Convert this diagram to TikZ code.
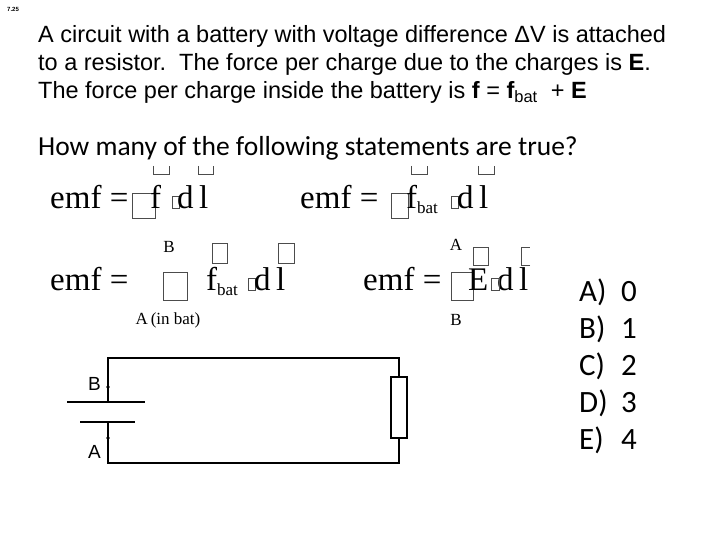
\documentclass[tikz,border=0pt]{standalone}
\usepackage{fontspec}
\setmainfont{Liberation Sans}
\newfontfamily\carlitofont{Carlito}
\newfontfamily\tmsfont{Liberation Serif}
\newcommand\batsz{\tmsfont\fontsize{17}{17}\selectfont}
\begin{document}
\begin{tikzpicture}[x=1pt,y=-1pt,
  t/.style={inner sep=0pt,anchor=base west},
  eq/.style={t,font=\tmsfont\fontsize{33}{33}\selectfont},
  ans/.style={t,font=\carlitofont\fontsize{31}{31}\selectfont},
  lab/.style={inner sep=0pt,font=\tmsfont\fontsize{17}{17}\selectfont},
  gb/.style={draw=black!70,line width=0.6pt},
  wire/.style={line width=1.4pt}]
\useasboundingbox (0,0) rectangle (720,540);
\node[t,font=\bfseries\fontsize{6}{6}\selectfont] (num) at (7,12) {7.25};
\node[t,font=\fontsize{23.5}{23.5}\selectfont] (l1) at (38,43) {A circuit with a battery with voltage difference ΔV is attached};
\node[t,font=\fontsize{23.5}{23.5}\selectfont] (l2) at (38,71) {to a resistor.\ \ The force per charge due to the charges is \textbf{E}.};
\node[t,font=\fontsize{23.5}{23.5}\selectfont] (l3) at (38,99) {The force per charge inside the battery is \textbf{f} = \textbf{f}\textsubscript{bat}\ \ + \textbf{E}};
\node[t,font=\carlitofont\fontsize{27.5}{27.5}\selectfont] (q) at (38,156) {How many of the following statements are true?};
% row 1 left
\node[eq] (e1) at (50,209) {emf =};
\draw[gb] (132,193) rectangle (155,218);
\node[eq] (f1) at (150,209) {f};
\draw[gb] (172,196) rectangle (179,208);
\node[eq] (d1) at (177,209) {d\,l};
\draw[gb] (153,166) |- (169,174) -- (169,166);
\draw[gb] (198,166) |- (213,174) -- (213,166);
% row 1 right
\node[eq] (e2) at (300,209) {emf =};
\draw[gb] (391,193) rectangle (408,218);
\node[eq] (f2) at (406,209) {f\raisebox{-5pt}{\batsz bat}};
\draw[gb] (451,196) rectangle (458,208);
\node[eq] (d2) at (457,209) {d\,l};
\draw[gb] (411,166) |- (427,174) -- (427,166);
\draw[gb] (478,166) |- (494,174) -- (494,166);
% row 2 left
\node[eq] (e3) at (50,290) {emf =};
\node[lab] (b3) at (169,247) {B};
\draw[gb] (163,272) rectangle (187,300);
\node[eq] (f3) at (206,290) {f\raisebox{-5pt}{\batsz bat}};
\draw[gb] (248,278) rectangle (255,290);
\node[eq] (d3) at (254,290) {d\,l};
\draw[gb] (212,243) rectangle (227,263);
\draw[gb] (278,243) rectangle (294,263);
\node[lab] (a3) at (168,320) {A\,(in bat)};
% row 2 right
\node[eq] (e4) at (363,290) {emf =};
\node[lab] (a4) at (456,245) {A};
\draw[gb] (451,272) rectangle (473,300);
\node[eq] (E4) at (468,290) {E};
\node[eq] (d4) at (497,290) {d\,l};
\draw[gb] (491,278) rectangle (499,290);
\draw[gb] (473,247) rectangle (488,265);
\draw[gb] (530,265) -- (521,265) -- (521,247) -- (530,247);
\node[lab] (b4) at (456,320) {B};
% answers
\foreach \l/\n [count=\i] in {A/0,B/1,C/2,D/3,E/4}{
  \node[ans] (ansl\i) at (579,301+\i*37-37) {\l)};
  \node[ans] (ansn\i) at (621,301+\i*37-37) {\n};}
% circuit
\coordinate (tl) at (108,358); \coordinate (tr) at (399,358);
\coordinate (bl) at (108,463); \coordinate (br) at (399,463);
\coordinate (pB) at (108,387); \coordinate (pA) at (108,438);
\draw[wire] (108,402) -- (tl) -- (tr) -- (399,377);
\draw[wire] (399,438) -- (br) -- (bl) -- (108,422);
\draw[line width=1.8pt] (67,402) -- (145,402);
\draw[line width=1.4pt] (80,422) -- (135,422);
\draw[line width=1.4pt] (391,377) rectangle (407,438);
\fill (pB) circle (1.8); \fill (pA) circle (1.8);
\node[font=\fontsize{19}{19}\selectfont,anchor=east,inner sep=1pt] (lB) at (102,384) {B};
\node[font=\fontsize{19}{19}\selectfont,anchor=east,inner sep=1pt] (lA) at (102,452) {A};
\end{tikzpicture}
\end{document}
